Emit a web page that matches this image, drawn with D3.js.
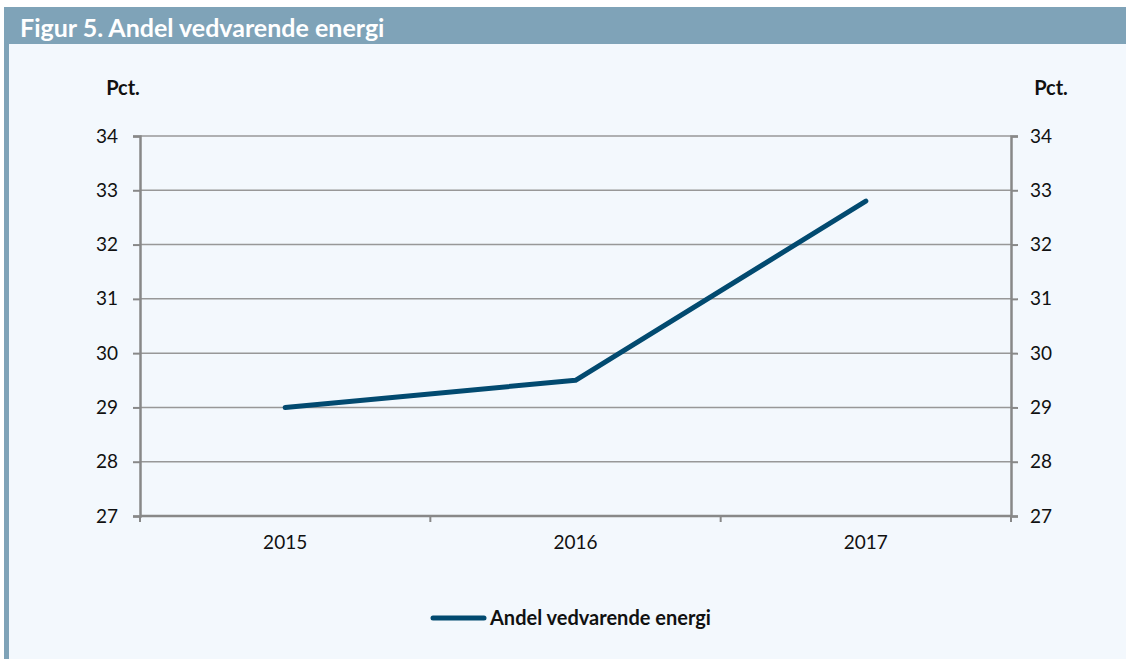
<!DOCTYPE html>
<html>
<head>
<meta charset="utf-8">
<script src="https://cdn.jsdelivr.net/npm/d3@7"></script>
<style>
  body { margin: 0; background: #fff; }
  svg { display: block; }
  text { font-family: Lato, "Open Sans", sans-serif; }
</style>
</head>
<body>
<svg id="svg1" width="1126" height="659"></svg>
<script>
var years = ['2015', '2016', '2017'];
var shares = [29.0, 29.5, 32.8];
var yTicks = [27, 28, 29, 30, 31, 32, 33, 34];
var title = 'Figur 5. Andel vedvarende energi';
var seriesName = 'Andel vedvarende energi';

var width = 1126, height = 659;
var svg = d3.select('#svg1');

// panel background + header band
svg.append('rect').attr('x', 4).attr('y', 7).attr('width', width - 4).attr('height', height - 7)
    .attr('fill', '#f3f8fd');
svg.append('rect').attr('x', 4).attr('y', 7).attr('width', 5).attr('height', height - 7)
    .attr('fill', '#7fa3b8');
svg.append('rect').attr('x', 4).attr('y', 7).attr('width', width - 4).attr('height', 37)
    .attr('fill', '#7fa3b8');
svg.append('text').attr('x', 20).attr('y', 37)
    .attr('fill', '#fff').attr('font-size', 25).attr('font-weight', 'bold')
    .text(title);

var plotLeft = 140, plotRight = 1011, plotTop = 136, plotBottom = 516;

var x = d3.scaleBand().domain(years).range([plotLeft, plotRight]);
var y = d3.scaleLinear().domain([27, 34]).range([plotBottom, plotTop]);

// gridlines
svg.append('g').selectAll('line').data(yTicks).enter().append('line')
    .attr('x1', plotLeft).attr('x2', plotRight)
    .attr('y1', function(d) { return y(d); }).attr('y2', function(d) { return y(d); })
    .attr('stroke', '#989898').attr('stroke-width', 1.5);

// left axis
var yLeft = svg.append('g').attr('transform', 'translate(' + plotLeft + ',0)')
    .call(d3.axisLeft(y).tickValues(yTicks).tickFormat(d3.format('d')).tickSize(7).tickPadding(15));
// right axis
var yRight = svg.append('g').attr('transform', 'translate(' + plotRight + ',0)')
    .call(d3.axisRight(y).tickValues(yTicks).tickFormat(d3.format('d')).tickSize(7).tickPadding(12));
// x axis, ticks at category boundaries
var xAxis = svg.append('g').attr('transform', 'translate(0,' + plotBottom + ')')
    .call(d3.axisBottom(x).tickSize(0).tickPadding(20));
xAxis.selectAll('.bound').data(d3.range(years.length + 1)).enter().append('line')
    .attr('class', 'bound')
    .attr('x1', function(i) { return plotLeft + i * x.step(); })
    .attr('x2', function(i) { return plotLeft + i * x.step(); })
    .attr('y1', 0).attr('y2', 6)
    .attr('stroke', '#888').attr('stroke-width', 2);

[yLeft, yRight, xAxis].forEach(function(g) {
    g.select('.domain').attr('stroke', '#888').attr('stroke-width', 2.5);
    g.selectAll('.tick line').attr('stroke', '#888').attr('stroke-width', 2);
    g.selectAll('.tick text').attr('fill', '#111').attr('font-size', 19)
        .style('font-family', 'Lato, sans-serif');
});
xAxis.select('.domain').attr('d', 'M' + plotLeft + ',0H' + plotRight);

// unit labels
svg.append('text').attr('x', 123).attr('y', 95).attr('text-anchor', 'middle')
    .attr('font-weight', 'bold').attr('font-size', 20).attr('fill', '#111').text('Pct.');
svg.append('text').attr('x', 1051).attr('y', 95).attr('text-anchor', 'middle')
    .attr('font-weight', 'bold').attr('font-size', 20).attr('fill', '#111').text('Pct.');

// series line
var line = d3.line()
    .x(function(d, i) { return x(years[i]) + x.bandwidth() / 2; })
    .y(function(d) { return y(d); });
svg.append('path').datum(shares)
    .attr('d', line)
    .attr('fill', 'none')
    .attr('stroke', '#024a70')
    .attr('stroke-width', 5)
    .attr('stroke-linecap', 'round')
    .attr('stroke-linejoin', 'round');

// legend
svg.append('line').attr('x1', 433).attr('x2', 484).attr('y1', 618).attr('y2', 618)
    .attr('stroke', '#024a70').attr('stroke-width', 5).attr('stroke-linecap', 'round');
svg.append('text').attr('x', 490).attr('y', 625)
    .attr('font-weight', 'bold').attr('font-size', 20).attr('fill', '#111').text(seriesName);
</script>
</body>
</html>
